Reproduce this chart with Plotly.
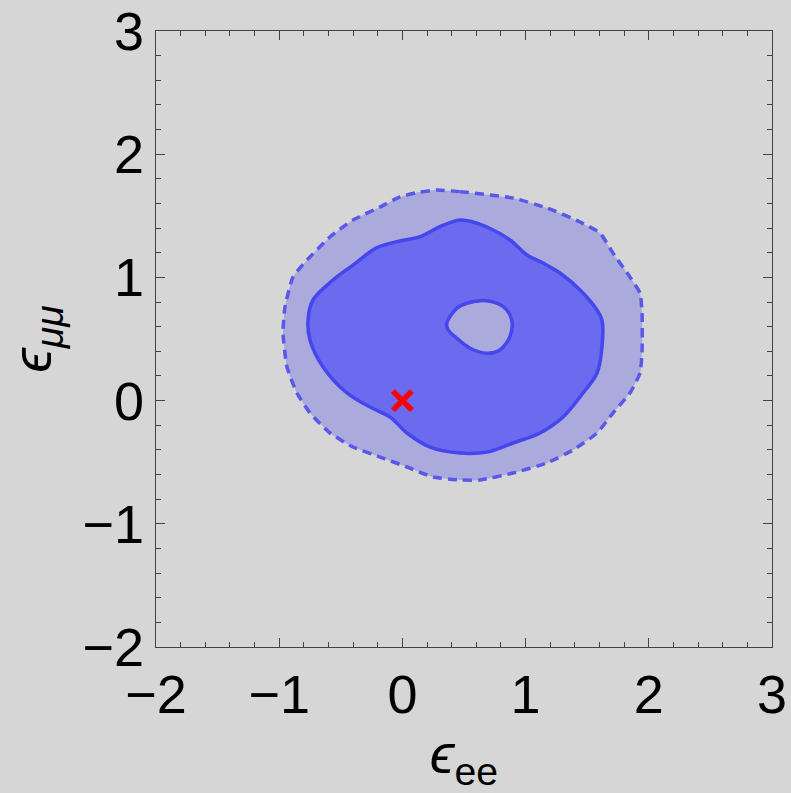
import plotly.graph_objects as go

# Outer (dashed) contour, data units
outer_x = [0.278, 0.468, 0.898, 1.174, 1.442, 1.604, 1.709, 1.847, 1.929, 1.945, 1.945, 1.929, 1.847,
           1.709, 1.580, 1.385, 1.174, 0.898, 0.630, 0.468, 0.248, 0.037, -0.182, -0.401, -0.588,
           -0.750, -0.856, -0.937, -0.969, -0.953, -0.888, -0.774, -0.588, -0.401, -0.182, -0.019, 0.143]
outer_y = [1.709, 1.696, 1.644, 1.563, 1.450, 1.360, 1.198, 1.003, 0.873, 0.711, 0.386, 0.224, 0.062,
           -0.101, -0.263, -0.401, -0.506, -0.588, -0.644, -0.644, -0.620, -0.539, -0.458, -0.377, -0.263,
           -0.101, 0.062, 0.273, 0.549, 0.760, 1.003, 1.141, 1.328, 1.466, 1.571, 1.653, 1.693]

# Inner (solid) contour
inner_x = [0.468, 0.305, 0.143, -0.046, -0.210, -0.401, -0.563, -0.726, -0.766, -0.750, -0.644, -0.450,
           -0.263, -0.101, 0.037, 0.224, 0.468, 0.687, 0.898, 1.117, 1.304, 1.466, 1.580, 1.620, 1.620,
           1.580, 1.442, 1.279, 1.141, 1.011, 0.873, 0.687, 0.573]
inner_y = [1.466, 1.412, 1.330, 1.290, 1.240, 1.100, 0.979, 0.817, 0.654, 0.492, 0.273, 0.062,
           -0.052, -0.133, -0.263, -0.377, -0.425, -0.417, -0.344, -0.263, -0.133, 0.062, 0.224, 0.435, 0.654,
           0.735, 0.898, 1.036, 1.117, 1.182, 1.304, 1.409, 1.450]

# Hole inside inner contour
hole_x = [0.360, 0.441, 0.522, 0.684, 0.819, 0.887, 0.873, 0.792, 0.684, 0.549, 0.441, 0.373]
hole_y = [0.627, 0.749, 0.790, 0.811, 0.762, 0.654, 0.519, 0.411, 0.384, 0.425, 0.506, 0.573]

# Best-fit / reference point
point_x = [0.0]
point_y = [0.0]

x_ticks = [-2, -1, 0, 1, 2, 3]
y_ticks = [-2, -1, 0, 1, 2, 3]


def closed(a):
    return list(a) + [a[0]]


BG = "#d6d6d6"
LIGHT = "#abaadc"
DARK = "#6b6bef"
LINE_IN = "#4646ee"
LINE_OUT = "#5858ea"
FONT = "Liberation Sans, Arial, sans-serif"

fig = go.Figure()
fig.add_trace(go.Scatter(x=closed(outer_x), y=closed(outer_y), mode="lines", fill="toself",
                         fillcolor=LIGHT, line=dict(color=LINE_OUT, width=3.5, dash="9px,6px",
                                                    shape="spline", smoothing=0.5),
                         hoverinfo="skip", showlegend=False))
fig.add_trace(go.Scatter(x=closed(inner_x), y=closed(inner_y), mode="lines", fill="toself",
                         fillcolor=DARK, line=dict(color=LINE_IN, width=3.5, shape="spline", smoothing=1.0),
                         hoverinfo="skip", showlegend=False))
fig.add_trace(go.Scatter(x=closed(hole_x), y=closed(hole_y), mode="lines", fill="toself",
                         fillcolor=LIGHT, line=dict(color=LINE_IN, width=3.5, shape="spline", smoothing=0.9),
                         hoverinfo="skip", showlegend=False))
fig.add_trace(go.Scatter(x=point_x, y=point_y, mode="markers",
                         marker=dict(symbol="x-thin", size=19, line=dict(color="#ff0000", width=5.5)),
                         showlegend=False))

axis_common = dict(
    showgrid=False, zeroline=False, showline=True, linecolor="#444444", linewidth=1.3,
    mirror="ticks", ticks="inside", ticklen=9, tickwidth=1.2, tickcolor="#444444",
    tickfont=dict(family=FONT, size=54, color="#000000"), automargin=False,
    minor=dict(ticks="inside", ticklen=5, tickwidth=1, tickcolor="#444444", dtick=0.2, showgrid=False),
)

fig.update_xaxes(range=[-2, 3], tickvals=x_ticks, ticktext=[str(v).replace("-", "\u2212") for v in x_ticks],
                 title=dict(text="<i>ϵ</i><sub>ee</sub>", font=dict(family=FONT, size=56, color="#000000"),
                            standoff=12),
                 **axis_common)
fig.update_yaxes(range=[-2, 3], tickvals=y_ticks, ticktext=[str(v).replace("-", "\u2212") for v in y_ticks],
                 title=dict(text="<i>ϵ</i><sub><i>μμ</i></sub>", font=dict(family=FONT, size=56, color="#000000"),
                            standoff=15),
                 **axis_common)

fig.update_layout(
    width=791, height=793,
    margin=dict(l=156, r=19, t=31, b=146),
    paper_bgcolor=BG, plot_bgcolor=BG,
)

fig.write_html("out.html")
